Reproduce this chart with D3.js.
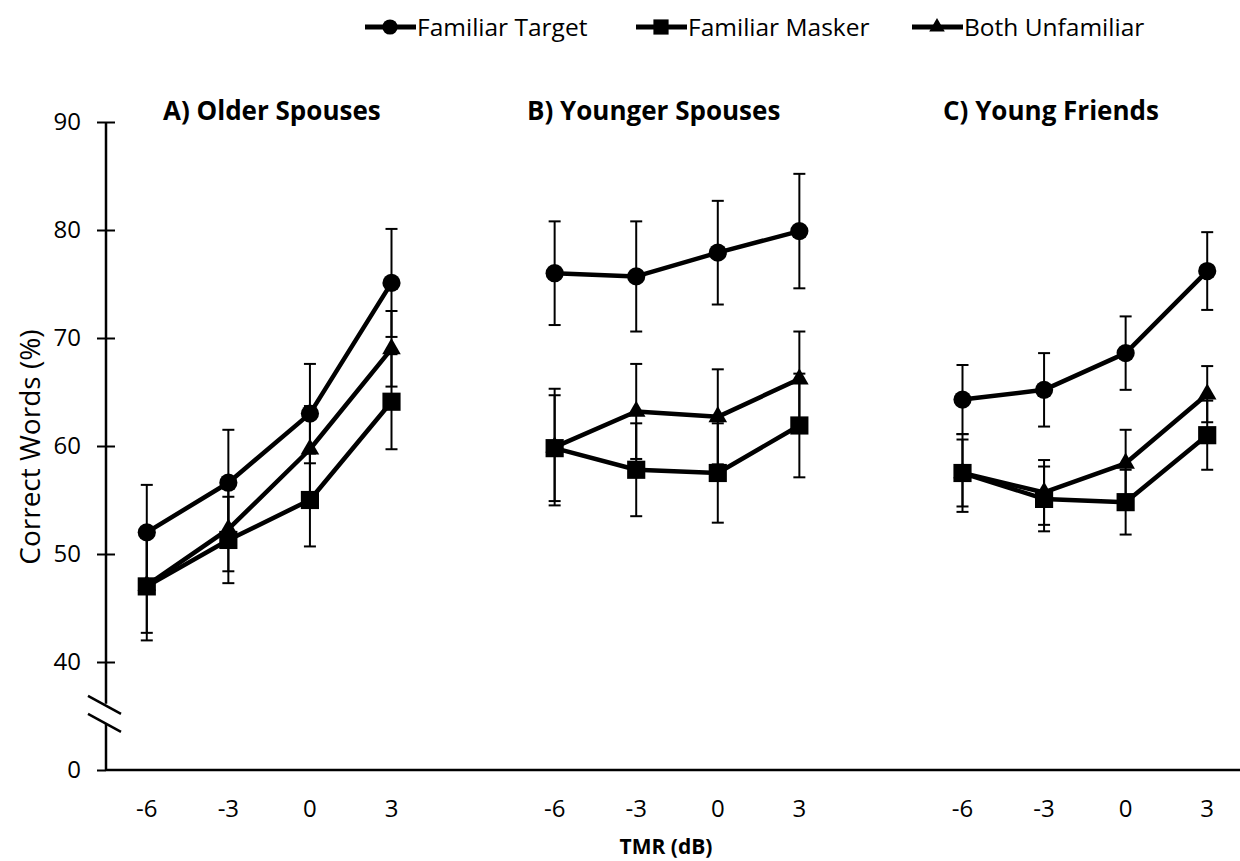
<!DOCTYPE html>
<html>
  <head>
    <meta charset="utf-8">
    <title>Correct words by TMR</title>
    <script src="https://cdn.jsdelivr.net/npm/d3@7"></script>
    <style>
      body { margin: 0; background: #fff; }
      text { font-family: "Open Sans", sans-serif; fill: #000; }
      .tick text { font-size: 24px; }
      .title { font-size: 26px; font-weight: bold; }
      .legend text { font-size: 24.5px; }
    </style>
  </head>
  <body>
    <svg id="chart" width="1240" height="861"></svg>
    <script>
      // chart data
      const tmr = ["-6", "-3", "0", "3"];
      const panels = ["A) Older Spouses", "B) Younger Spouses", "C) Young Friends"];
      const seriesNames = ["Familiar Target", "Familiar Masker", "Both Unfamiliar"];
      const yTicks = [30, 40, 50, 60, 70, 80, 90];
      // one row per panel, one value per TMR
      const targetMean = [[52.0, 56.6, 63.0, 75.1], [76.0, 75.7, 77.9, 79.9], [64.3, 65.2, 68.6, 76.2]];
      const targetErr = [[4.4, 4.9, 4.6, 5.0], [4.8, 5.1, 4.8, 5.3], [3.2, 3.4, 3.4, 3.6]];
      const maskerMean = [[47.0, 51.3, 55.0, 64.1], [59.8, 57.8, 57.5, 61.9], [57.5, 55.1, 54.8, 61.0]];
      const maskerErr = [[5.0, 4.0, 4.3, 4.4], [4.9, 4.3, 4.6, 4.8], [3.6, 3.0, 3.0, 3.2]];
      const unfamMean = [[47.1, 52.3, 59.7, 69.0], [59.9, 63.2, 62.7, 66.2], [57.5, 55.7, 58.4, 64.8]];
      const unfamErr = [[4.4, 3.9, 4.0, 3.5], [5.4, 4.4, 4.4, 4.4], [3.1, 3.0, 3.1, 2.6]];

      const series = [
        { name: seriesNames[0], mean: targetMean, err: targetErr, symbol: d3.symbolCircle, size: 260 },
        { name: seriesNames[1], mean: maskerMean, err: maskerErr, symbol: d3.symbolSquare, size: 330 },
        { name: seriesNames[2], mean: unfamMean, err: unfamErr, symbol: d3.symbolTriangle, size: 150 }
      ];

      // page elements
      const svg = d3.select("#chart");
      const margin = { left: 106, bottom: 770, top: 122 };

      // 14 slots: 4 per panel with a gap slot between panels
      const x = d3.scaleBand()
        .domain(d3.range(14))
        .range([margin.left, 1248]);
      const slot = (p, j) => x(p * 5 + j) + x.bandwidth() / 2;
      // broken axis: the "0" label sits where 30 would be
      const y = d3.scaleLinear()
        .domain([30, 90])
        .range([margin.bottom, margin.top]);

      // y axis
      const yAxis = d3.axisLeft(y)
        .tickValues(yTicks)
        .tickFormat(d => d === 30 ? "0" : d)
        .tickSize(9)
        .tickPadding(16);
      const yAxisGroup = svg.append("g")
        .attr("transform", "translate(" + margin.left + ",0)")
        .call(yAxis);
      yAxisGroup.select(".domain").remove();
      yAxisGroup.selectAll(".tick line")
        .attr("x1", d => d === 30 ? 0 : 9)
        .attr("stroke-width", 2);
      // axis line with a break between 40 and 0
      const breakY = y(35.2);
      yAxisGroup.append("line")
        .attr("y1", y(90)).attr("y2", breakY - 10)
        .attr("stroke", "#000").attr("stroke-width", 2.5);
      yAxisGroup.append("line")
        .attr("y1", breakY + 10).attr("y2", y(30))
        .attr("stroke", "#000").attr("stroke-width", 2.5);
      [-9, 9].forEach(function(off) {
        yAxisGroup.append("line")
          .attr("x1", -18).attr("y1", breakY + off - 9)
          .attr("x2", 15).attr("y2", breakY + off + 9)
          .attr("stroke", "#000").attr("stroke-width", 2.5);
      });

      // x axis
      svg.append("line")
        .attr("x1", margin.left).attr("x2", 1240)
        .attr("y1", y(30)).attr("y2", y(30))
        .attr("stroke", "#000").attr("stroke-width", 2.5);
      panels.forEach(function(name, p) {
        svg.append("g").selectAll("text")
          .data(tmr)
          .join("text")
            .attr("x", (d, j) => slot(p, j))
            .attr("y", y(30) + 47)
            .attr("text-anchor", "middle")
            .style("font-size", "24px")
            .text(d => d);
      });

      // axis titles
      svg.append("text")
        .attr("transform", "translate(40," + y(59.9) + ") rotate(-90)")
        .attr("text-anchor", "middle")
        .style("font-size", "28px")
        .text("Correct Words (%)");
      svg.append("text")
        .attr("x", 666)
        .attr("y", 854)
        .attr("text-anchor", "middle")
        .style("font-size", "21px")
        .style("font-weight", "bold")
        .text("TMR (dB)");

      // panel titles
      const titleX = [163, 527, 943];
      svg.selectAll(".title")
        .data(panels)
        .join("text")
          .attr("class", "title")
          .attr("x", (d, i) => titleX[i])
          .attr("y", 120)
          .text(d => d);

      // error bars, lines and markers
      const line = d3.line();
      const plot = svg.append("g");
      series.forEach(function(s) {
        panels.forEach(function(name, p) {
          const pts = s.mean[p].map((m, j) => ({ x: slot(p, j), m: m, e: s.err[p][j] }));
          const bars = plot.append("g").selectAll("g")
            .data(pts)
            .join("g")
              .attr("stroke", "#000")
              .attr("stroke-width", 2);
          bars.append("line")
            .attr("x1", d => d.x).attr("x2", d => d.x)
            .attr("y1", d => y(d.m - d.e)).attr("y2", d => y(d.m + d.e));
          bars.append("line")
            .attr("x1", d => d.x - 6).attr("x2", d => d.x + 6)
            .attr("y1", d => y(d.m - d.e)).attr("y2", d => y(d.m - d.e));
          bars.append("line")
            .attr("x1", d => d.x - 6).attr("x2", d => d.x + 6)
            .attr("y1", d => y(d.m + d.e)).attr("y2", d => y(d.m + d.e));
        });
      });
      series.forEach(function(s) {
        panels.forEach(function(name, p) {
          const pts = s.mean[p].map((m, j) => [slot(p, j), y(m)]);
          plot.append("path")
            .attr("d", line(pts))
            .attr("fill", "none")
            .attr("stroke", "#000")
            .attr("stroke-width", 4.5)
            .attr("stroke-linejoin", "round");
          plot.append("g").selectAll("path")
            .data(pts)
            .join("path")
              .attr("transform", d => "translate(" + d[0] + "," + d[1] + ")")
              .attr("d", d3.symbol(s.symbol, s.size))
              .attr("fill", "#000");
        });
      });

      // legend
      const legendX = [365, 636, 912];
      const legend = svg.append("g").attr("class", "legend");
      series.forEach(function(s, i) {
        const g = legend.append("g")
          .attr("transform", "translate(" + legendX[i] + ",27)");
        g.append("line")
          .attr("x1", 0).attr("x2", 51)
          .attr("stroke", "#000").attr("stroke-width", 5);
        g.append("path")
          .attr("transform", "translate(25,0)")
          .attr("d", d3.symbol(s.symbol, s.size * 0.7))
          .attr("fill", "#000");
        g.append("text")
          .attr("x", 52)
          .attr("dy", "0.35em")
          .text(s.name);
      });
    </script>
  </body>
</html>
